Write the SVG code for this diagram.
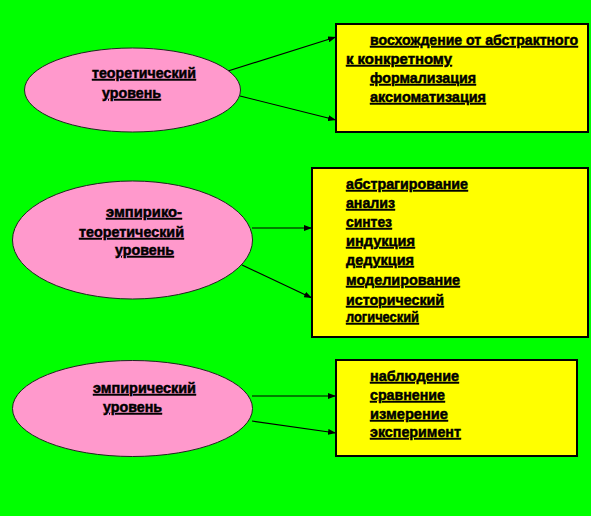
<svg xmlns="http://www.w3.org/2000/svg" width="591" height="516" viewBox="0 0 591 516">
<defs>
<marker id="ah" markerWidth="8" markerHeight="6" refX="8" refY="3" orient="auto" markerUnits="userSpaceOnUse">
<path d="M0,0 L8,3 L0,6 Z" fill="#000"/>
</marker>
<style>
.ell{fill:#FF99CC;stroke:#222;stroke-width:1}
.box{fill:#FFFF00;stroke:#000;stroke-width:2}
.t{font-family:"Liberation Sans",Arial,sans-serif;font-size:14.5px;font-weight:bold;fill:#000;text-decoration:underline;stroke:#000;stroke-width:0.5}
.c{stroke:#000;stroke-width:1.2;fill:none;marker-end:url(#ah)}
</style>
</defs>
<rect x="0" y="0" width="591" height="516" fill="#00FF00"/>
<g id="connectors">
<line class="c" x1="228" y1="71" x2="336" y2="37"/>
<line class="c" x1="240" y1="96" x2="336" y2="120"/>
<line class="c" x1="252" y1="228" x2="312" y2="228"/>
<line class="c" x1="242" y1="265" x2="312" y2="298"/>
<line class="c" x1="252" y1="396" x2="336" y2="396"/>
<line class="c" x1="252" y1="421" x2="336" y2="433"/>
</g>
<g id="node-theor">
<ellipse class="ell" cx="132.5" cy="90" rx="108" ry="42"/>
<text class="t" x="92" y="78" textLength="104" lengthAdjust="spacingAndGlyphs">теоретический</text>
<text class="t" x="102" y="98" textLength="59" lengthAdjust="spacingAndGlyphs">уровень</text>
</g>
<g id="node-theor-methods">
<rect class="box" x="336" y="24" width="252" height="108"/>
<text class="t" x="370" y="45" textLength="208" lengthAdjust="spacingAndGlyphs">восхождение от абстрактного</text>
<text class="t" x="346" y="64" textLength="106" lengthAdjust="spacingAndGlyphs">к конкретному</text>
<text class="t" x="370" y="83" textLength="106" lengthAdjust="spacingAndGlyphs">формализация</text>
<text class="t" x="370" y="102" textLength="116" lengthAdjust="spacingAndGlyphs">аксиоматизация</text>
</g>
<g id="node-emp-theor">
<ellipse class="ell" cx="132.5" cy="240" rx="120" ry="59"/>
<text class="t" x="106" y="217" textLength="76" lengthAdjust="spacingAndGlyphs">эмпирико-</text>
<text class="t" x="79" y="237" textLength="105" lengthAdjust="spacingAndGlyphs">теоретический</text>
<text class="t" x="115" y="255" textLength="59" lengthAdjust="spacingAndGlyphs">уровень</text>
</g>
<g id="node-emp-theor-methods">
<rect class="box" x="312" y="168" width="276" height="169"/>
<text class="t" x="346" y="189" textLength="122" lengthAdjust="spacingAndGlyphs">абстрагирование</text>
<text class="t" x="346" y="208" textLength="49" lengthAdjust="spacingAndGlyphs">анализ</text>
<text class="t" x="346" y="227" textLength="46" lengthAdjust="spacingAndGlyphs">синтез</text>
<text class="t" x="346" y="246" textLength="69" lengthAdjust="spacingAndGlyphs">индукция</text>
<text class="t" x="346" y="265" textLength="68" lengthAdjust="spacingAndGlyphs">дедукция</text>
<text class="t" x="346" y="285" textLength="114" lengthAdjust="spacingAndGlyphs">моделирование</text>
<text class="t" x="346" y="305" textLength="98" lengthAdjust="spacingAndGlyphs">исторический</text>
<text class="t" x="346" y="322" textLength="73" lengthAdjust="spacingAndGlyphs">логический</text>
</g>
<g id="node-emp">
<ellipse class="ell" cx="132.5" cy="408.5" rx="120" ry="48"/>
<text class="t" x="93" y="393" textLength="103" lengthAdjust="spacingAndGlyphs">эмпирический</text>
<text class="t" x="103" y="412" textLength="59" lengthAdjust="spacingAndGlyphs">уровень</text>
</g>
<g id="node-emp-methods">
<rect class="box" x="336" y="360" width="241" height="96"/>
<text class="t" x="370" y="381" textLength="89" lengthAdjust="spacingAndGlyphs">наблюдение</text>
<text class="t" x="370" y="400" textLength="75" lengthAdjust="spacingAndGlyphs">сравнение</text>
<text class="t" x="370" y="419" textLength="78" lengthAdjust="spacingAndGlyphs">измерение</text>
<text class="t" x="370" y="437" textLength="91" lengthAdjust="spacingAndGlyphs">эксперимент</text>
</g>
</svg>
